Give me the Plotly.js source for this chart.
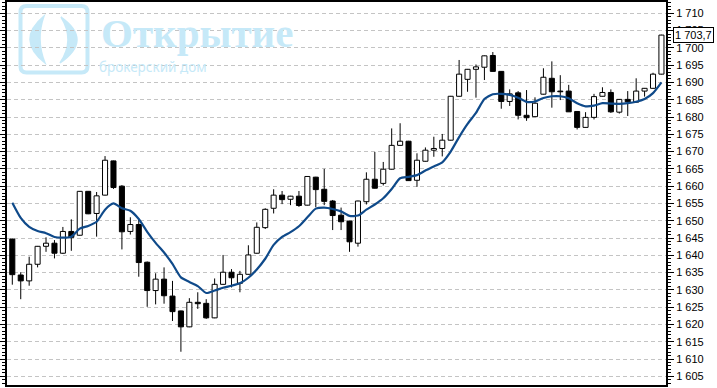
<!DOCTYPE html>
<html>
<head>
<meta charset="utf-8">
<script src="https://cdn.plot.ly/plotly-3.0.1.min.js"></script>
<style>html,body{margin:0;padding:0;background:#fff;}#chart{width:717px;height:388px;}</style>
</head>
<body>
<div id="chart"></div>
<script>
// Candle data
const openP = [1644.7,1634.3,1632.6,1637.4,1642.6,1643.5,1640.6,1646.9,1645.8,1658.5,
  1652.1,1657.4,1667.3,1660.0,1646.9,1648.9,1638.0,1629.8,1633.1,1628.2,
  1623.9,1619.3,1626.4,1626.1,1621.9,1631.6,1635.1,1631.9,1634.5,1640.6,
  1648.0,1653.6,1657.4,1656.2,1657.1,1654.5,1662.6,1659.1,1655.7,1651.6,
  1649.9,1643.5,1655.5,1662.0,1660.8,1664.9,1671.8,1673.0,1661.7,1667.2,
  1670.4,1670.9,1673.3,1686.0,1690.9,1693.8,1694.4,1697.8,1693.2,1684.5,
  1687.0,1680.5,1680.1,1686.6,1691.2,1687.5,1687.5,1681.6,1677.0,1679.9,
  1686.0,1687.1,1681.4,1685.1,1684.3,1687.5,1688.3,1692.4];
const highP = [1644.8,1635.1,1639.6,1642.7,1645.2,1644.4,1648.2,1650.4,1658.6,1658.6,
  1658.3,1668.7,1667.4,1660.3,1651.0,1650.4,1638.2,1634.8,1636.5,1632.6,
  1624.0,1627.6,1629.3,1627.3,1633.3,1640.1,1636.0,1635.5,1642.9,1649.5,
  1653.6,1659.1,1658.6,1657.2,1658.6,1662.9,1662.7,1665.0,1656.0,1653.8,
  1650.0,1655.8,1664.0,1669.9,1667.0,1676.7,1678.2,1673.1,1669.5,1671.2,
  1674.3,1675.1,1686.1,1696.5,1693.9,1695.2,1697.8,1698.8,1693.3,1688.0,
  1687.5,1687.8,1685.7,1694.1,1696.1,1692.1,1689.3,1681.7,1681.4,1686.7,
  1688.6,1688.0,1685.2,1687.5,1691.2,1688.4,1692.8,1703.8];
const lowP = [1631.5,1627.3,1631.2,1636.5,1641.0,1639.1,1640.4,1641.3,1645.7,1651.9,
  1645.4,1657.3,1659.2,1641.7,1646.0,1633.8,1625.1,1625.8,1626.0,1621.0,
  1612.1,1619.2,1624.5,1621.6,1621.8,1631.5,1630.7,1629.3,1634.4,1640.5,
  1647.6,1652.1,1654.8,1654.5,1654.0,1654.4,1653.9,1654.5,1647.3,1647.3,
  1641.0,1642.5,1654.7,1659.3,1660.2,1664.8,1671.7,1661.5,1659.8,1667.1,
  1668.5,1668.6,1673.2,1685.9,1687.3,1685.6,1690.7,1693.1,1682.4,1683.2,
  1679.3,1678.9,1680.0,1686.5,1682.7,1684.9,1681.5,1676.4,1676.9,1679.3,
  1685.9,1681.2,1681.0,1680.3,1684.2,1685.9,1688.2,1692.3];
const closeP = [1634.4,1632.6,1637.4,1642.6,1643.5,1640.6,1646.9,1645.2,1658.5,1652.0,
  1657.2,1667.5,1659.6,1646.8,1648.9,1637.9,1629.8,1633.1,1628.3,1623.7,
  1619.3,1626.4,1626.0,1621.9,1631.6,1635.1,1633.5,1634.5,1640.1,1648.1,
  1653.3,1657.4,1656.1,1657.1,1654.4,1662.8,1659.0,1655.6,1651.5,1649.7,
  1643.9,1655.7,1662.0,1659.4,1664.9,1671.8,1673.0,1661.6,1667.5,1670.4,
  1670.9,1673.3,1686.0,1692.4,1693.8,1694.5,1697.7,1693.2,1684.5,1686.7,
  1680.5,1679.8,1684.0,1691.5,1687.3,1687.3,1681.5,1677.0,1679.9,1685.9,
  1687.1,1681.5,1685.1,1684.4,1687.5,1688.3,1692.4,1703.7];
// Moving average line (one value per candle)
const maLine = [1655.2,1650.8,1648.2,1647.0,1646.4,1645.3,1645.1,1645.4,1647.7,1648.5,
  1649.7,1653.2,1655.0,1653.6,1652.9,1650.5,1646.8,1643.6,1640.8,1637.5,
  1633.6,1632.3,1631.1,1629.1,1629.8,1630.6,1631.2,1631.9,1633.5,1635.9,
  1639.0,1643.0,1645.3,1646.7,1648.4,1651.0,1653.5,1653.8,1653.4,1652.7,
  1651.4,1651.5,1653.2,1654.7,1656.5,1659.2,1662.3,1662.7,1663.2,1664.5,
  1665.7,1666.9,1670.0,1674.2,1678.0,1681.2,1685.2,1686.6,1686.7,1686.4,
  1685.6,1684.4,1684.5,1685.5,1686.0,1686.0,1685.4,1684.0,1683.1,1683.3,
  1684.0,1683.9,1683.8,1684.0,1684.4,1685.2,1686.9,1690.0];
const logoTitle = 'Открытие';
const logoSubtitle = 'брокерский дом';

const n = closeP.length;
const idx = closeP.map((_, i) => i);
const bodyBase = idx.map(i => Math.min(openP[i], closeP[i]));
const bodyLen = idx.map(i => Math.max(Math.abs(closeP[i] - openP[i]), 0.2));
const bodyColor = idx.map(i => closeP[i] >= openP[i] ? '#ffffff' : '#000000');

const wx = [], wy = [];
idx.forEach(i => {
  const top = Math.max(openP[i], closeP[i]), bot = Math.min(openP[i], closeP[i]);
  wx.push(i, i, null, i, i, null);
  wy.push(top, highP[i], null, lowP[i], bot, null);
});

const last = closeP[n - 1];
const lastTxt = last.toFixed(1).replace('.', ',').replace(/^(\d)(\d{3})/, '$1 $2');

// layout geometry helpers (pixel -> paper)
const L = 7, R = 51, T = 2, B = 3, PW = 717 - L - R, PH = 388 - T - B;
const px = x => (x - L) / PW;
const py = y => (388 - B - y) / PH;
const P = (x, y) => px(x).toFixed(5) + ',' + py(y).toFixed(5);
const logoCol = '#c6e9f8';

function roundRect(x0, y0, x1, y1, r) {
  return 'M' + P(x0 + r, y0) + ' L' + P(x1 - r, y0) + ' Q' + P(x1, y0) + ' ' + P(x1, y0 + r) +
    ' L' + P(x1, y1 - r) + ' Q' + P(x1, y1) + ' ' + P(x1 - r, y1) +
    ' L' + P(x0 + r, y1) + ' Q' + P(x0, y1) + ' ' + P(x0, y1 - r) +
    ' L' + P(x0, y0 + r) + ' Q' + P(x0, y0) + ' ' + P(x0 + r, y0) + ' Z';
}

const traces = [
  { type: 'scatter', mode: 'lines', x: wx, y: wy, line: { color: '#000', width: 1 }, hoverinfo: 'skip', showlegend: false },
  { type: 'bar', x: idx, y: bodyLen, base: bodyBase, width: 0.6,
    marker: { color: bodyColor, line: { color: '#000', width: 1 } }, showlegend: false },
  { type: 'scatter', mode: 'lines', x: idx, y: maLine, line: { color: '#0f4a8a', width: 2.2, shape: 'spline', smoothing: 0.6 }, showlegend: false }
];

const layout = {
  width: 717, height: 388,
  margin: { l: L, r: R, t: T, b: B },
  paper_bgcolor: '#ffffff', plot_bgcolor: 'rgba(0,0,0,0)',
  separators: ', ',
  barmode: 'overlay',
  showlegend: false,
  font: { family: 'Liberation Sans, Arial, sans-serif', size: 11, color: '#000' },
  xaxis: {
    range: [-0.63, 77.54], showgrid: false, zeroline: false, showticklabels: false,
    ticks: '', showline: true, linecolor: '#000', linewidth: 2, mirror: true, fixedrange: true
  },
  yaxis: {
    side: 'right', range: [1602.48, 1713.27], dtick: 5, tick0: 1605,
    separatethousands: true,
    showgrid: true, gridcolor: '#c4c4c4', griddash: '4px,3px', gridwidth: 1,
    zeroline: false, showline: true, linecolor: '#000', linewidth: 2, mirror: 'ticks',
    ticks: 'outside', ticklen: 6, tickcolor: '#000', tickwidth: 1,
    minor: { dtick: 1, ticks: 'outside', ticklen: 3, tickcolor: '#000', tickwidth: 1, showgrid: false },
    tickfont: { family: 'Liberation Sans, Arial, sans-serif', size: 11, color: '#000' },
    fixedrange: true
  },
  shapes: [
    { type: 'path', xref: 'paper', yref: 'paper', layer: 'below', path: roundRect(20.5, 6, 87.5, 72.5, 6),
      line: { color: logoCol, width: 4 }, fillcolor: 'rgba(0,0,0,0)' },
    { type: 'path', xref: 'paper', yref: 'paper', layer: 'below',
      path: 'M' + P(44, 16) + ' Q' + P(15.5, 39.5) + ' ' + P(45, 63) + ' Q' + P(35.5, 39.5) + ' ' + P(44, 16) + ' Z',
      line: { color: logoCol, width: 1.5 }, fillcolor: logoCol },
    { type: 'path', xref: 'paper', yref: 'paper', layer: 'below',
      path: 'M' + P(61, 17) + ' Q' + P(93.5, 40) + ' ' + P(60, 63) + ' Q' + P(75.5, 40) + ' ' + P(61, 17) + ' Z',
      line: { color: logoCol, width: 1.5 }, fillcolor: logoCol }
  ],
  annotations: [
    { xref: 'paper', yref: 'paper', x: px(99), y: py(33), xanchor: 'left', yanchor: 'middle', showarrow: false,
      text: '<b>' + logoTitle + '</b>', font: { family: 'Liberation Serif, serif', size: 41, color: logoCol } },
    { xref: 'paper', yref: 'paper', x: px(153), y: py(67), xanchor: 'center', yanchor: 'middle', showarrow: false,
      text: logoSubtitle, font: { family: 'Noto Sans, sans-serif', size: 13.5, color: logoCol } },
    { xref: 'paper', yref: 'y', x: px(673), y: last, xanchor: 'left', yanchor: 'middle', showarrow: false,
      text: lastTxt, bgcolor: '#ffffff', bordercolor: '#000', borderwidth: 1, borderpad: 1,
      font: { family: 'Liberation Sans, Arial, sans-serif', size: 11, color: '#000' } }
  ]
};

Plotly.newPlot('chart', traces, layout, { displayModeBar: false, staticPlot: true });
</script>
</body>
</html>
